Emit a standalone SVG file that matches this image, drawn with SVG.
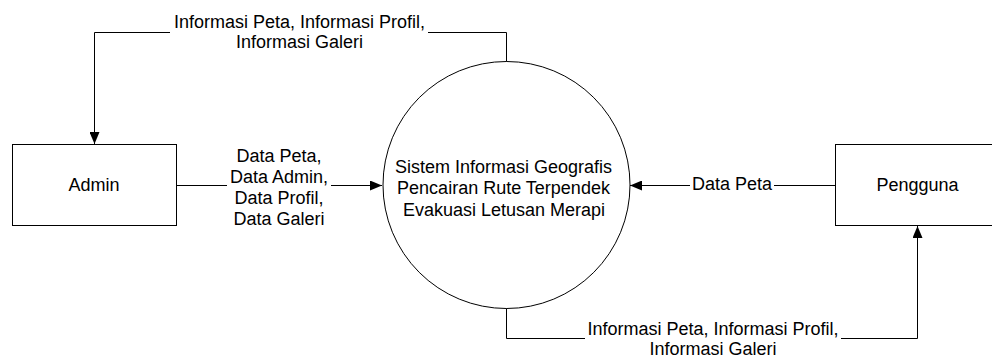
<svg xmlns="http://www.w3.org/2000/svg" width="992" height="363" viewBox="0 0 992 363">
  <style>
    .shape { fill: #ffffff; stroke: #000000; stroke-width: 1; }
    .flow { fill: none; stroke: #000000; stroke-width: 1; }
    text { font-family: "Liberation Sans", Arial, sans-serif; font-size: 18px; fill: #000000; text-anchor: middle; }
  </style>
  <defs>
    <marker id="arrow" markerUnits="userSpaceOnUse" markerWidth="12" markerHeight="10" refX="12" refY="5" orient="auto">
      <path d="M0,0 L12,5 L0,10 Z" fill="#000000"/>
    </marker>
  </defs>

  <rect width="992" height="363" fill="#ffffff"/>

  <!-- data flows -->
  <g id="connectors">
    <!-- process to Admin (top) -->
    <polyline class="flow" points="506.5,62 506.5,32.5 428,32.5"/>
    <polyline class="flow" points="170,32.5 94.5,32.5 94.5,144" marker-end="url(#arrow)"/>
    <text x="299.5" y="28">Informasi Peta, Informasi Profil,</text>
    <text x="299.5" y="48">Informasi Galeri</text>

    <!-- Admin to process -->
    <line class="flow" x1="177" y1="185.5" x2="227" y2="185.5"/>
    <line class="flow" x1="331" y1="185.5" x2="382" y2="185.5" marker-end="url(#arrow)"/>
    <text x="279" y="162">Data Peta,</text>
    <text x="279" y="183">Data Admin,</text>
    <text x="279" y="204">Data Profil,</text>
    <text x="279" y="225">Data Galeri</text>

    <!-- Pengguna to process -->
    <line class="flow" x1="835" y1="185.5" x2="774" y2="185.5"/>
    <line class="flow" x1="690" y1="185.5" x2="630" y2="185.5" marker-end="url(#arrow)"/>
    <text x="732" y="190">Data Peta</text>

    <!-- process to Pengguna (bottom) -->
    <polyline class="flow" points="506.5,308 506.5,338.5 585,338.5"/>
    <polyline class="flow" points="841,338.5 917.5,338.5 917.5,226" marker-end="url(#arrow)"/>
    <text x="713" y="335">Informasi Peta, Informasi Profil,</text>
    <text x="713" y="355">Informasi Galeri</text>
  </g>

  <!-- external entity: Admin -->
  <g id="admin">
    <rect class="shape" x="12.5" y="144.5" width="164" height="81"/>
    <text x="94" y="191">Admin</text>
  </g>

  <!-- external entity: Pengguna -->
  <g id="pengguna">
    <rect class="shape" x="835.5" y="144.5" width="164" height="81"/>
    <text x="917.5" y="191">Pengguna</text>
  </g>

  <!-- process -->
  <g id="process">
    <circle class="shape" cx="506.5" cy="185" r="123.5"/>
    <text x="503.5" y="172.5">Sistem Informasi Geografis</text>
    <text x="503.5" y="194">Pencairan Rute Terpendek</text>
    <text x="504" y="215.5">Evakuasi Letusan Merapi</text>
  </g>
</svg>
